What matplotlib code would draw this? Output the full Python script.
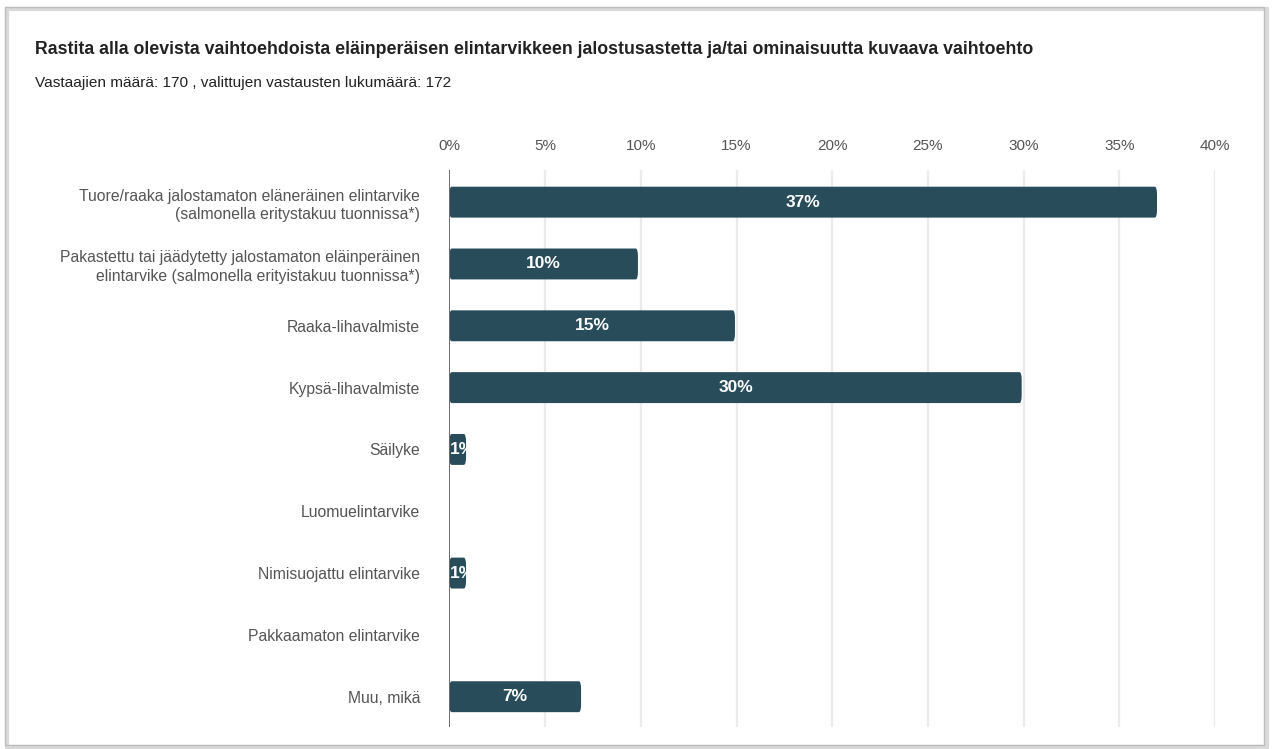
import matplotlib
matplotlib.use("Agg")
import matplotlib.pyplot as plt
from matplotlib.patches import FancyBboxPatch, Rectangle

plt.rcParams['font.family'] = ['Liberation Sans', 'DejaVu Sans']

categories = [
    "Tuore/raaka jalostamaton eläneräinen elintarvike\n(salmonella eritystakuu tuonnissa*)",
    "Pakastettu tai jäädytetty jalostamaton eläinperäinen\nelintarvike (salmonella erityistakuu tuonnissa*)",
    "Raaka-lihavalmiste",
    "Kypsä-lihavalmiste",
    "Säilyke",
    "Luomuelintarvike",
    "Nimisuojattu elintarvike",
    "Pakkaamaton elintarvike",
    "Muu, mikä",
]
values = [36.97, 9.85, 14.92, 29.9, 0.87, 0, 0.87, 0, 6.88]
value_labels = ["37%", "10%", "15%", "30%", "1%", "", "1%", "", "7%"]
xticks = [0, 5, 10, 15, 20, 25, 30, 35, 40]
xticklabels = ["0%", "5%", "10%", "15%", "20%", "25%", "30%", "35%", "40%"]

title = "Rastita alla olevista vaihtoehdoista eläinperäisen elintarvikkeen jalostusastetta ja/tai ominaisuutta kuvaava vaihtoehto"
subtitle = "Vastaajien määrä: 170 , valittujen vastausten lukumäärä: 172"

W, H = 1272, 749
fig = plt.figure(figsize=(W / 100, H / 100), dpi=100)
fig.patch.set_facecolor("white")

# frame with shadow
fig.patches.append(Rectangle((7 / W, 1 - 747 / H), 1260 / W, 738 / H, transform=fig.transFigure,
                             facecolor="none", edgecolor="#d9d9d9", lw=3, zorder=-2))
fig.patches.append(Rectangle((5 / W, 1 - 745 / H), 1259 / W, 738 / H, transform=fig.transFigure,
                             facecolor="none", edgecolor="#bdbdbd", lw=1, zorder=-1))

fig.text(35 / W, 1 - 49 / H, title, fontsize=12.8, fontweight="bold", color="#222222", va="center", ha="left")
fig.text(35 / W, 1 - 83 / H, subtitle, fontsize=11.1, color="#222222", va="center", ha="left")

left, right = 449.4 / W, 1215 / W
top, bottom = 1 - 170 / H, 1 - 727 / H
ax = fig.add_axes([left, bottom, right - left, top - bottom])
ax.set_zorder(2)
ax.set_facecolor("none")
ax.set_xlim(0, 40)
ax.set_ylim(8.49, -0.52)

for x in xticks[1:]:
    ax.axvline(x, color="#ebebeb", lw=1.6, zorder=0)
ax.axvline(0, color="#6b6b6b", lw=1.4, zorder=3)

for s in ax.spines.values():
    s.set_visible(False)

ax.xaxis.tick_top()
ax.set_xticks(xticks)
ax.set_xticklabels(xticklabels, fontsize=11.0, color="#555555")
ax.tick_params(axis="x", length=0, pad=12)
ax.set_yticks(range(len(categories)))
ax.set_yticklabels(categories, fontsize=11.3, color="#555555", linespacing=1.28)
ax.tick_params(axis="y", length=0, pad=21)

bar_color = "#284c5a"
bh = 0.5
for i, (v, lab) in enumerate(zip(values, value_labels)):
    if v <= 0:
        continue
    p = FancyBboxPatch((0, i - bh / 2), v, bh,
                       boxstyle="round,pad=0,rounding_size=0.12",
                       mutation_aspect=0.05 / 0.12 * 2.5,
                       facecolor=bar_color, edgecolor="none", zorder=2)
    ax.add_patch(p)
    r = Rectangle((0, i - bh / 2), v, bh, transform=ax.transData)
    t = ax.text(v / 2, i, lab, color="white", fontsize=12.5, fontweight="bold",
                ha="center", va="center", zorder=4)
    if v < 3:
        t.set_ha("left")
        t.set_x(0.05)
        t.set_clip_path(r)

fig.savefig("out.png", dpi=100, facecolor="white")
